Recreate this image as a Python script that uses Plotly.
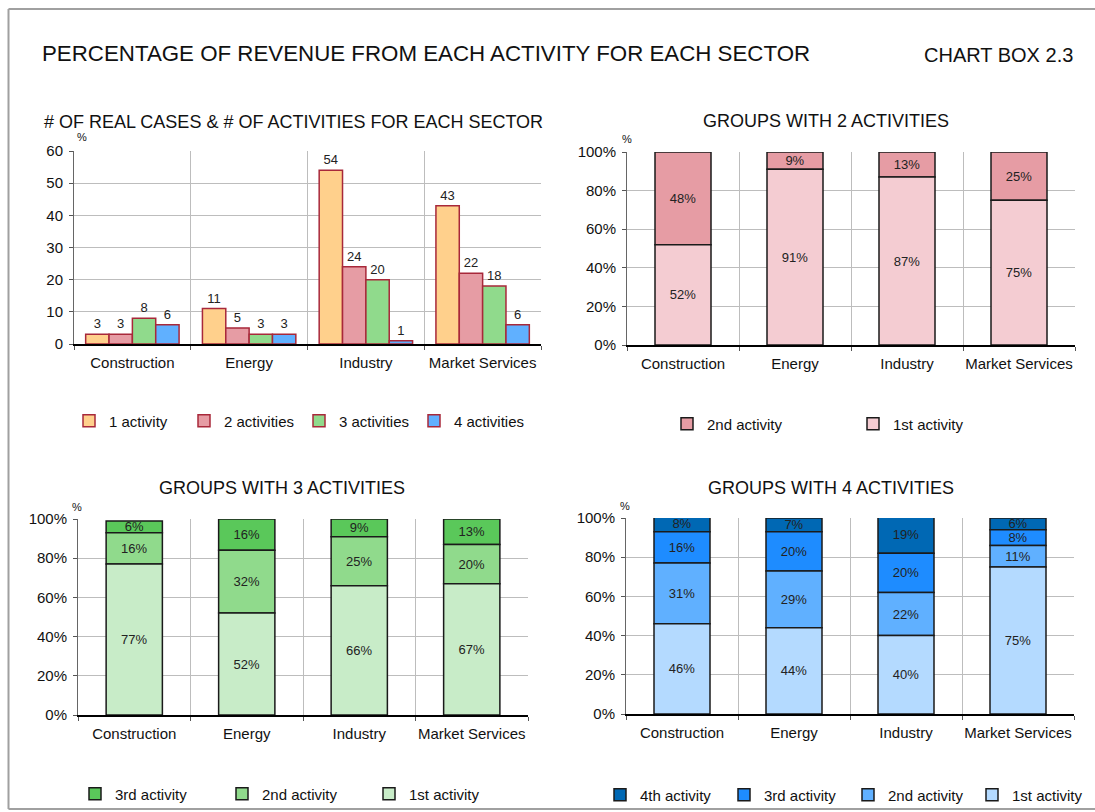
import plotly.graph_objects as go
import numpy as np

W, H = 1095, 812
FONT = "Arial, Liberation Sans, sans-serif"

sectors = ["Construction", "Energy", "Industry", "Market Services"]

# Chart 1: # of real cases by number of activities
cases_names = ["1 activity", "2 activities", "3 activities", "4 activities"]
cases_1 = [3, 11, 54, 43]
cases_2 = [3, 5, 24, 22]
cases_3 = [8, 3, 20, 18]
cases_4 = [6, 3, 1, 6]

# Chart 2: groups with 2 activities (%)
g2_1st = [52, 91, 87, 75]
g2_2nd = [48, 9, 13, 25]

# Chart 3: groups with 3 activities (%)
g3_1st = [77, 52, 66, 67]
g3_2nd = [16, 32, 25, 20]
g3_3rd = [6, 16, 9, 13]

# Chart 4: groups with 4 activities (%)
g4_1st = [46, 44, 40, 75]
g4_2nd = [31, 29, 22, 11]
g4_3rd = [16, 20, 20, 8]
g4_4th = [8, 7, 19, 6]

c1_colors = ["#FFD08C", "#E69CA4", "#90DA8C", "#60B0FF"]
g2_colors = {"1st": "#F4CCD2", "2nd": "#E69CA4"}
g3_colors = {"1st": "#C8ECC8", "2nd": "#90DA8C", "3rd": "#5AC85A"}
g4_colors = {"1st": "#B4DAFF", "2nd": "#60B0FF", "3rd": "#1E8CFF", "4th": "#0068B4"}


def px_x(p):
    return p / W


def px_y(p):
    return 1 - p / H


fig = go.Figure()

# ---- Chart 1 ----
for name, vals, col in zip(cases_names, [cases_1, cases_2, cases_3, cases_4], c1_colors):
    fig.add_trace(go.Bar(
        x=sectors, y=vals, name=name, marker=dict(color=col, line=dict(color="#A8283A", width=1.5)),
        text=[str(v) for v in vals], textposition="outside", cliponaxis=False,
        textfont=dict(size=13, color="#222", family=FONT),
        xaxis="x", yaxis="y", legend="legend",
    ))


def stacked(series, names, colors, xa, ya, leg):
    # series ordered bottom -> top; legend order top -> bottom
    bases = np.cumsum([[0] * 4] + [list(s) for s in series[:-1]], axis=0)
    items = list(zip(series, names, colors, bases))
    for vals, name, col, base in reversed(items):
        fig.add_trace(go.Bar(
            x=sectors, y=vals, base=[float(b) for b in base], name=name,
            width=0.5, offsetgroup="stack_" + xa,
            marker=dict(color=col, line=dict(color="#1a1a1a", width=1.5)),
            text=[f"{v}%" for v in vals], textposition="inside", insidetextanchor="middle",
            textangle=0, constraintext="none",
            textfont=dict(size=13, color="#222", family=FONT),
            xaxis=xa, yaxis=ya, legend=leg,
        ))


stacked([g2_1st, g2_2nd], ["1st activity", "2nd activity"], [g2_colors["1st"], g2_colors["2nd"]], "x2", "y2", "legend2")
stacked([g3_1st, g3_2nd, g3_3rd], ["1st activity", "2nd activity", "3rd activity"],
        [g3_colors["1st"], g3_colors["2nd"], g3_colors["3rd"]], "x3", "y3", "legend3")
stacked([g4_1st, g4_2nd, g4_3rd, g4_4th], ["1st activity", "2nd activity", "3rd activity", "4th activity"],
        [g4_colors["1st"], g4_colors["2nd"], g4_colors["3rd"], g4_colors["4th"]], "x4", "y4", "legend4")

GRID = "#BDBDBD"


def xax(dom, anchor):
    return dict(domain=dom, anchor=anchor, type="category", tickson="boundaries", showgrid=True,
                gridcolor=GRID, gridwidth=1, ticks="outside", ticklen=4, tickcolor="#555", tickangle=0,
                ticklabelstandoff=4,
                showline=True, linecolor="#000", linewidth=2, tickfont=dict(size=15, family=FONT, color="#111"),
                mirror=False, fixedrange=True)


def yax(dom, anchor, rng, dtick, suffix=""):
    return dict(domain=dom, anchor=anchor, range=rng, dtick=dtick, showgrid=True, gridcolor=GRID, gridwidth=1,
                ticks="outside", ticklen=4, tickcolor="#555", showline=True, linecolor="#666", linewidth=1,
                ticklabelstandoff=3,
                ticksuffix=suffix, tickfont=dict(size=15, family=FONT, color="#111"), zeroline=False,
                fixedrange=True)


layout = dict(
    width=W, height=H, margin=dict(l=0, r=0, t=0, b=0, pad=0, autoexpand=False),
    paper_bgcolor="white", plot_bgcolor="white",
    font=dict(family=FONT, color="#111"),
    barmode="group", bargap=0.2, bargroupgap=0,
    uniformtext=dict(minsize=13, mode="show"),
    xaxis=xax([px_x(74), px_x(541)], "y"),
    yaxis=yax([px_y(344), px_y(151)], "x", [0, 60], 10),
    xaxis2=xax([px_x(627), px_x(1075)], "y2"),
    yaxis2=yax([px_y(345), px_y(152)], "x2", [0, 100], 20, "%"),
    xaxis3=xax([px_x(78), px_x(528)], "y3"),
    yaxis3=yax([px_y(715), px_y(519)], "x3", [0, 100], 20, "%"),
    xaxis4=xax([px_x(626), px_x(1074)], "y4"),
    yaxis4=yax([px_y(714), px_y(518)], "x4", [0, 100], 20, "%"),
)

leg_common = dict(orientation="h", xanchor="left", yanchor="middle", font=dict(size=15, family=FONT, color="#111"),
                  bgcolor="rgba(0,0,0,0)", itemclick=False, itemdoubleclick=False, traceorder="normal")
layout["legend"] = dict(leg_common, x=px_x(69), y=px_y(421), entrywidth=70)
layout["legend2"] = dict(leg_common, x=px_x(667), y=px_y(424), entrywidth=141)
layout["legend3"] = dict(leg_common, x=px_x(75), y=px_y(794), entrywidth=102)
layout["legend4"] = dict(leg_common, x=px_x(600), y=px_y(795), entrywidth=79)

fig.update_layout(**layout)

anns = [
    dict(text="PERCENTAGE OF REVENUE FROM EACH ACTIVITY FOR EACH SECTOR", x=px_x(40), y=px_y(53), xanchor="left",
         font=dict(size=22.3)),
    dict(text="CHART BOX 2.3", x=px_x(1075), y=px_y(55), xanchor="right", font=dict(size=20)),
    dict(text="# OF REAL CASES & # OF ACTIVITIES FOR EACH SECTOR", x=px_x(42), y=px_y(122), xanchor="left",
         font=dict(size=18)),
    dict(text="GROUPS WITH 2 ACTIVITIES", x=px_x(826), y=px_y(121), xanchor="center", font=dict(size=18)),
    dict(text="GROUPS WITH 3 ACTIVITIES", x=px_x(282), y=px_y(488), xanchor="center", font=dict(size=18)),
    dict(text="GROUPS WITH 4 ACTIVITIES", x=px_x(831), y=px_y(488), xanchor="center", font=dict(size=18)),
    dict(text="%", x=px_x(82), y=px_y(137), xanchor="center", font=dict(size=11)),
    dict(text="%", x=px_x(627), y=px_y(139), xanchor="center", font=dict(size=11)),
    dict(text="%", x=px_x(77), y=px_y(507), xanchor="center", font=dict(size=11)),
    dict(text="%", x=px_x(625), y=px_y(506), xanchor="center", font=dict(size=11)),
]
for a in anns:
    a.update(xref="paper", yref="paper", yanchor="middle", showarrow=False)
    a["font"] = dict(a["font"], family=FONT, color="#111")
fig.update_layout(annotations=anns)

# outer frame (right edge lies beyond the picture)
frame = dict(type="line", xref="paper", yref="paper", line=dict(color="#A0A0A0", width=2), layer="below")
fig.add_shape(frame, x0=px_x(8.5), x1=px_x(8.5), y0=px_y(809), y1=px_y(9))
fig.add_shape(frame, x0=px_x(8.5), x1=1, y0=px_y(9), y1=px_y(9))
fig.add_shape(frame, x0=px_x(8.5), x1=1, y0=px_y(809), y1=px_y(809))

post = ("document.body.style.margin='0';document.body.style.overflow='hidden';"
        "var d=document.getElementById('{plot_id}');d.style.position='fixed';d.style.left='0px';d.style.top='0px';")
fig.write_html("out.html", config={"displayModeBar": False}, post_script=post)
